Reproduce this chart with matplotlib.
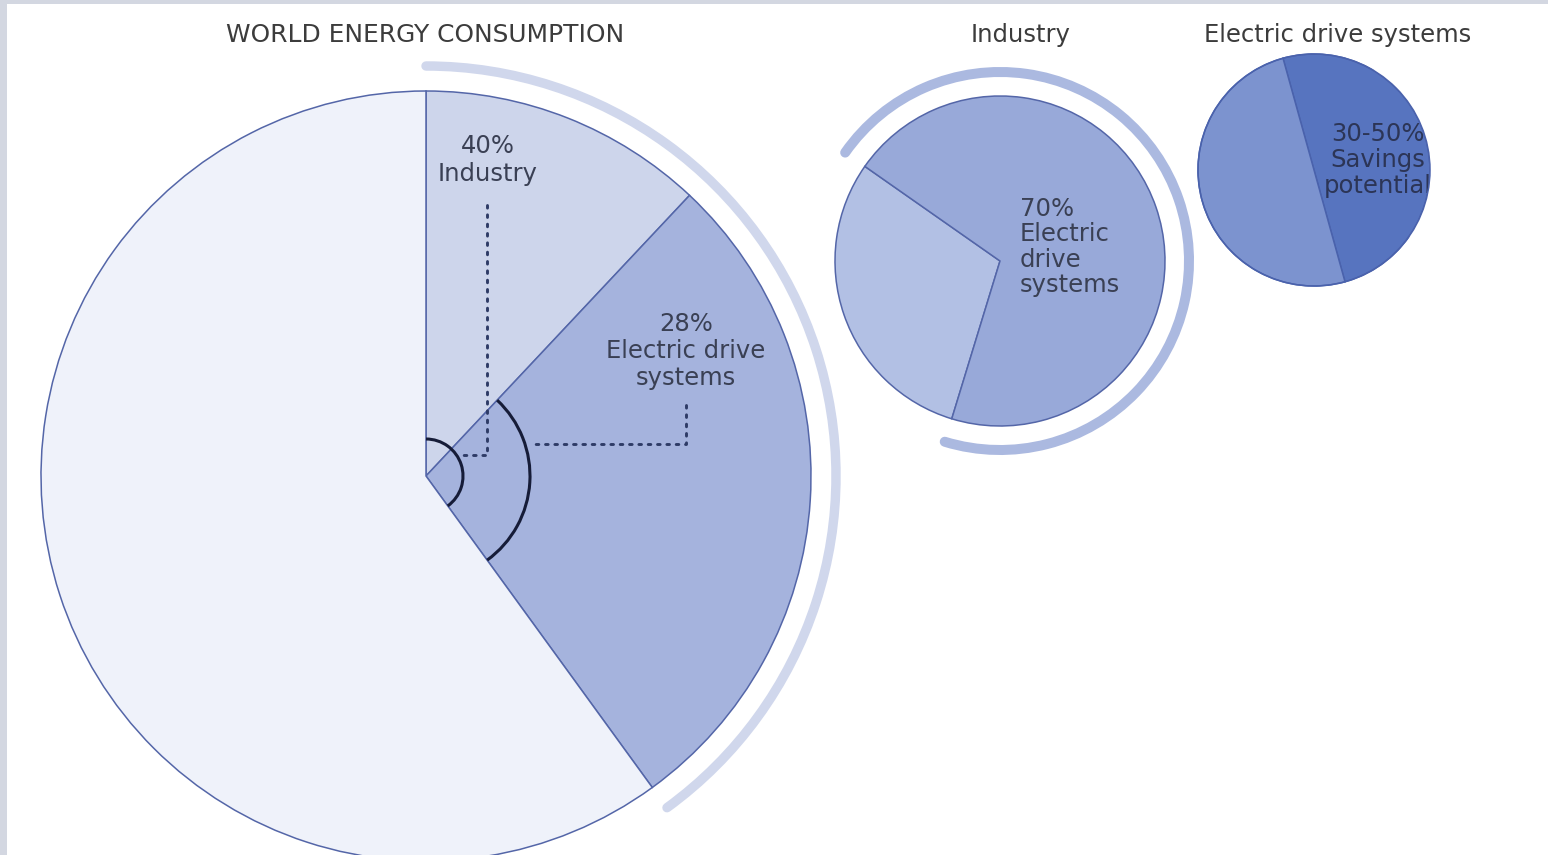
import numpy as np
import matplotlib
matplotlib.use("Agg")
import matplotlib.pyplot as plt
from matplotlib.patches import Arc, Rectangle, Polygon, Circle

# ---- data -------------------------------------------------------------
# World energy consumption (%): industry uses other than drives, electric drive systems, rest
world_parts = ["Industry, other uses", "Electric drive systems", "Other consumers"]
world_share = [12, 28, 60]
industry_share_of_world = world_share[0] + world_share[1]      # 40 %

# Industrial consumption (%): other uses, electric drive systems
industry_parts = ["Other uses", "Electric drive systems"]
industry_share = [30, 70]

# Electric drive systems (%): savings potential (upper bound), remainder
drive_parts = ["Savings potential", "Remainder"]
drive_share = [50, 50]
savings_low, savings_high = 30, 50

titles = ["WORLD ENERGY CONSUMPTION", "Industry", "Electric drive systems"]

# ---- figure in pixel units -------------------------------------------------
W, H = 1548, 855
fig = plt.figure(figsize=(W / 100, H / 100), dpi=100)
ax = fig.add_axes([0, 0, 1, 1])
plt.rcParams["font.family"] = ["DejaVu Sans"]

FS = 17.5
TXT = "#3a4054"
EDGE = "#5466a8"


def Y(y_from_top):
    return H - y_from_top


# ---- main pie: world energy consumption --------------------------------
c0 = (426, Y(476))
r0 = 385
ax.pie(world_share, center=c0, radius=r0, startangle=90, counterclock=False,
       colors=["#cdd5eb", "#a5b3dd", "#eff2fa"],
       wedgeprops=dict(edgecolor=EDGE, linewidth=1.1))

ind_end = 90 - 3.6 * industry_share_of_world          # end angle of the industry block
drv_start = 90 - 3.6 * world_share[0]                 # start of electric drive wedge

# light band around the industry block
ax.add_patch(Arc(c0, 2 * 410, 2 * 410, theta1=ind_end, theta2=90,
                 color="#d0d7ec", lw=6.8, capstyle="round", zorder=3))

# angle markers at the centre
r_small, r_big = 37, 104
ax.add_patch(Arc(c0, 2 * r_small, 2 * r_small, theta1=ind_end, theta2=90,
                 color="#161c38", lw=2.2, zorder=4))
ax.add_patch(Arc(c0, 2 * r_big, 2 * r_big, theta1=ind_end, theta2=drv_start,
                 color="#161c38", lw=2.2, zorder=4))

# dotted leaders from the labels to the markers
dot = dict(color="#2e3b66", lw=2.1, linestyle=(0, (0.9, 2.3)), zorder=4,
           solid_capstyle="round", dash_capstyle="round")
y1 = 455
x1_end = c0[0] + np.sqrt(r_small ** 2 - (Y(y1) - c0[1]) ** 2) + 2
ax.plot([487, 487, x1_end], [Y(205), Y(y1), Y(y1)], **dot)
y2 = 444
x2_end = c0[0] + np.sqrt(r_big ** 2 - (Y(y2) - c0[1]) ** 2) + 7
ax.plot([686, 686, x2_end], [Y(405), Y(y2), Y(y2)], **dot)

ax.text(488, Y(160), f"{industry_share_of_world}%\nIndustry", ha="center",
        va="center", fontsize=FS, color=TXT, linespacing=1.2, zorder=5)
ax.text(686, Y(351), f"{world_share[1]}%\nElectric drive\nsystems", ha="center",
        va="center", fontsize=FS, color=TXT, linespacing=1.15, zorder=5)

# ---- second pie: industry --------------------------------------------------
c1 = (1000, Y(261))
r1 = 165
start1 = 145
ax.pie(industry_share, center=c1, radius=r1, startangle=start1, counterclock=True,
       colors=["#b2c0e4", "#98a9d9"],
       wedgeprops=dict(edgecolor=EDGE, linewidth=1.1))
drv1_start = start1 + 3.6 * industry_share[0] - 360
ax.add_patch(Arc(c1, 2 * 189, 2 * 189, theta1=drv1_start, theta2=start1,
                 color="#abb9e0", lw=7.2, capstyle="round", zorder=3))
ax.text(1020, Y(247), f"{industry_share[1]}%\nElectric\ndrive\nsystems", ha="left",
        va="center", fontsize=FS, color=TXT, linespacing=1.08, zorder=5)

# ---- third pie: electric drive systems -------------------------------------
c2 = (1314, Y(170))
r2 = 116
start2 = -74.5
ax.pie(drive_share, center=c2, radius=r2, startangle=start2, counterclock=True,
       colors=["#5774bf", "#7c93cf"],
       wedgeprops=dict(edgecolor="#4a62ac", linewidth=1.1))
ax.text(1378, Y(160), f"{savings_low}-{savings_high}%\nSavings\npotential", ha="center",
        va="center", fontsize=FS, color="#2c3556", linespacing=1.08, zorder=5)

# keep the savings label inside the disc
th = np.radians(np.linspace(-35, 60, 80))
edge_pts = np.column_stack([c2[0] + r2 * np.cos(th), c2[1] + r2 * np.sin(th)])
mask = np.vstack([edge_pts, [[1470, edge_pts[-1, 1]], [1470, edge_pts[0, 1]]]])
ax.add_patch(Polygon(mask, closed=True, facecolor="white", edgecolor="none", zorder=6))
ax.add_patch(Circle(c2, r2, fill=False, edgecolor="#4a62ac", lw=1.1, zorder=7))

# ---- titles -----------------------------------------------------------------
ax.text(425, Y(35), titles[0], ha="center", va="center", fontsize=17.9, color="#3c3c3c")
ax.text(1021, Y(35), titles[1], ha="center", va="center", fontsize=FS, color="#3c3c3c")
ax.text(1338, Y(35), titles[2], ha="center", va="center", fontsize=FS, color="#3c3c3c")

# frame strips on the left and top
ax.add_patch(Rectangle((0, 0), 7, H, facecolor="#d3d7e1", edgecolor="none", zorder=10))
ax.add_patch(Rectangle((0, H - 4.5), W, 4.5, facecolor="#d3d7e1", edgecolor="none", zorder=10))

ax.set_xlim(0, W)
ax.set_ylim(0, H)
ax.set_aspect("auto")
ax.axis("off")

fig.savefig("out.png", dpi=100, facecolor="white")
